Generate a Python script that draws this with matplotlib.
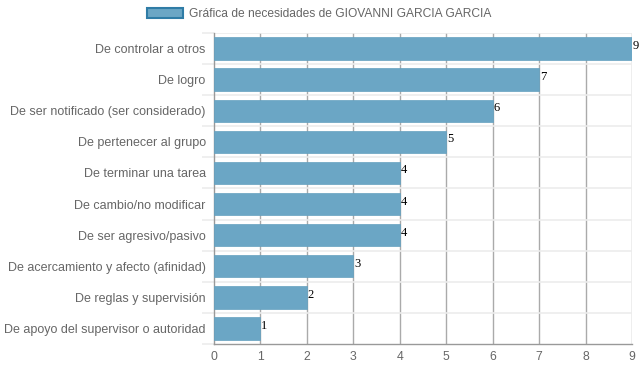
import matplotlib
matplotlib.use('Agg')
import matplotlib.pyplot as plt
from matplotlib.patches import Patch

categories = ['De controlar a otros', 'De logro', 'De ser notificado (ser considerado)',
              'De pertenecer al grupo', 'De terminar una tarea', 'De cambio/no modificar',
              'De ser agresivo/pasivo', 'De acercamiento y afecto (afinidad)',
              'De reglas y supervisión', 'De apoyo del supervisor o autoridad']
values = [9, 7, 6, 5, 4, 4, 4, 3, 2, 1]
xticks = list(range(0, 10))
legend_label = 'Gráfica de necesidades de GIOVANNI GARCIA GARCIA'

bar_color = '#6ba6c5'
text_gray = '#666666'

plt.rcParams['font.family'] = ['Liberation Sans', 'DejaVu Sans']

fig = plt.figure(figsize=(6.39, 3.72), dpi=100)
ax = fig.add_axes([214 / 639, 1 - 344 / 372, (632 - 214) / 639, (344 - 33) / 372])

pos = list(range(len(categories)))
ax.barh(pos, values, height=0.72, color=bar_color, edgecolor='#64a0bf', linewidth=0.5, zorder=3)
for p, v in zip(pos, values):
    ax.text(v + 0.02, p - 0.08, str(v), family='Liberation Serif', fontsize=9,
            color='black', ha='left', va='center', zorder=4)

ax.set_ylim(len(categories) - 0.5, -0.5)
ax.set_xlim(0, 9)
ax.set_xticks(xticks)
ax.set_yticks(pos)
ax.set_yticklabels(categories, fontsize=9.0)
ax.tick_params(axis='both', length=0, labelsize=8.8, colors=text_gray)
ax.tick_params(axis='y', pad=6, labelsize=9.0)
ax.tick_params(axis='x', pad=5)

# row boundaries as short minor ticks on the left, like the row separators
bounds = [b - 0.5 for b in range(len(categories) + 1)]
ax.set_yticks(bounds, minor=True)
ax.tick_params(axis='y', which='minor', length=9, width=1.2, color='#ececec')

# vertical grid
for x in xticks[1:]:
    ax.axvline(x, color='#aaaaaa', linewidth=1, zorder=1)
# horizontal row separators
for b in bounds[:-1]:
    ax.axhline(b, color='#ececec', linewidth=1.2, zorder=1)

for s in ['top', 'right']:
    ax.spines[s].set_visible(False)
ax.spines['left'].set_color('#999999')
ax.spines['bottom'].set_color('#999999')
ax.spines['left'].set_linewidth(1)
ax.spines['bottom'].set_linewidth(1)

handle = Patch(facecolor=bar_color, edgecolor='#2f7ca6', linewidth=1.5)
fig.legend([handle], [legend_label], loc='center', bbox_to_anchor=(0.5, 1 - 14 / 372),
           frameon=False, fontsize=8.65, labelcolor=text_gray,
           handlelength=3.0, handleheight=0.9, handletextpad=0.5)

fig.savefig('out.png', dpi=100)
